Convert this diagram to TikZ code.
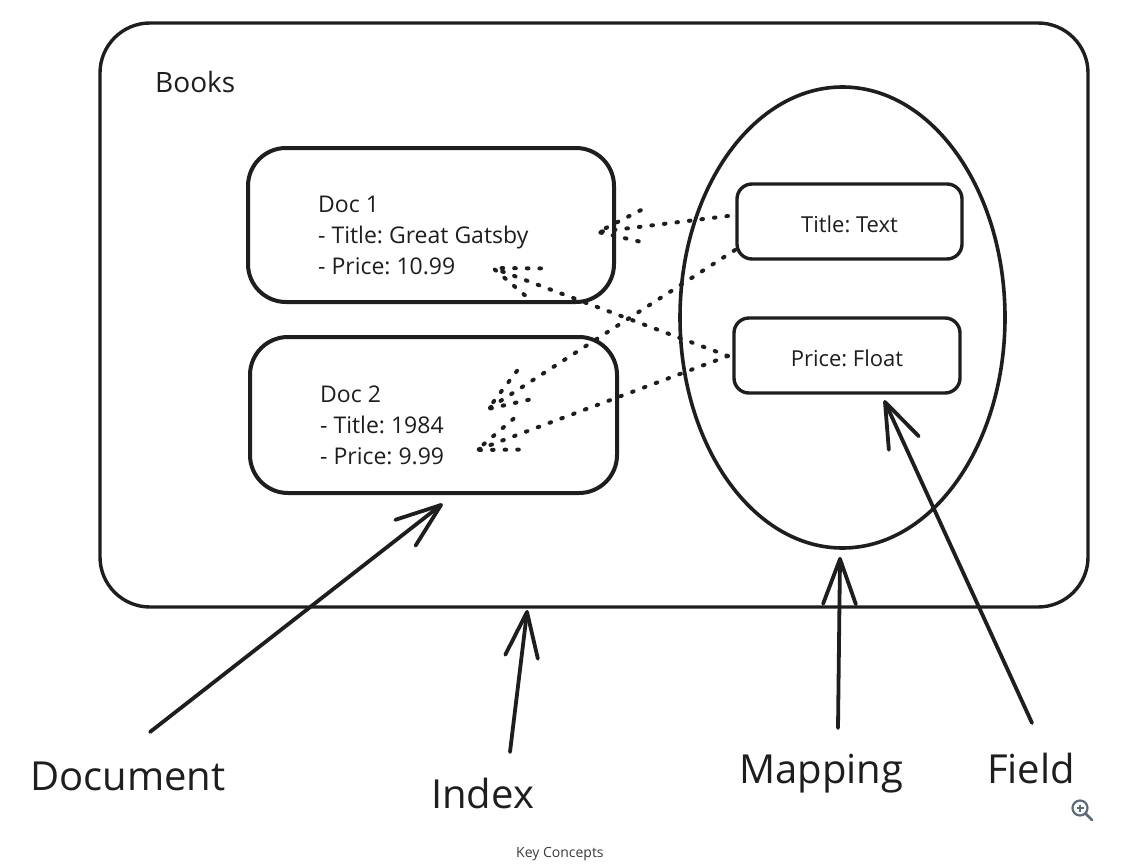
\documentclass[tikz,border=0pt]{standalone}
\usepackage{fontspec}
\setmainfont{Open Sans}
\frenchspacing
\usetikzlibrary{calc,shapes.geometric}
\definecolor{ink}{HTML}{1E1E1E}
\definecolor{icongray}{HTML}{5F6B78}
\definecolor{captiongray}{HTML}{3A3A3A}
\newcommand\headlen{48pt}
\newcommand\sketchto[3][]{%
  \draw[#1] (#2) -- (#3);
  \draw[#1] ($(#3)!\headlen!20:(#2)$) -- (#3) -- ($(#3)!\headlen!-20:(#2)$);}
\tikzset{
  box/.style={draw=ink, line width=3.6pt, inner sep=0pt},
  dotline/.style={draw=ink, line width=4pt, line cap=round, dash pattern=on 1.6pt off 11pt},
  bigarrow/.style={draw=ink, line width=3.8pt, line cap=round, line join=round},
  doctext/.style={text=ink, inner sep=0pt, align=left, anchor=north west, font=\fontsize{23}{31}\selectfont\frenchspacing},
  fieldtext/.style={text=ink, text height=21pt, text depth=0pt, font=\fontsize{22}{26}\selectfont\frenchspacing},
  biglabel/.style={text=ink, inner sep=0pt, anchor=base west, font=\fontsize{40}{48}\selectfont},
}
\begin{document}
\begin{tikzpicture}[x=1pt,y=-1pt]
\useasboundingbox[fill=white] (0,0) rectangle (1129,864);

% index container
\node[box, line width=3.4pt, rounded corners=50pt, minimum width=988pt, minimum height=584pt] (index) at (594,315) {};
\node[text=ink, inner sep=0pt, anchor=base west, font=\fontsize{28}{34}\selectfont] (books) at (155,93) {Books};

% documents
\node[box, line width=4pt, rounded corners=38pt, minimum width=366pt, minimum height=154pt] (doc1) at (431,225) {};
\node[doctext] (doc1txt) at (318,196) {Doc 1\\- Title: Great Gatsby\\- Price: 10.99};
\node[box, line width=4pt, rounded corners=38pt, minimum width=367pt, minimum height=156pt] (doc2) at (433.5,415) {};
\node[doctext] (doc2txt) at (320,386) {Doc 2\\- Title: 1984\\- Price: 9.99};

% mapping
\node[box, ellipse, line width=3.6pt, minimum width=325pt, minimum height=461pt] (mapping) at (842.5,317.5) {};
\node[box, line width=3.4pt, rounded corners=15pt, minimum width=225pt, minimum height=75pt, fieldtext] (title) at (849.5,221.5) {Title: Text};
\node[box, line width=3.4pt, rounded corners=15pt, minimum width=226pt, minimum height=75pt, fieldtext] (price) at (847,355.5) {Price: Float};

% dotted connector end points
\coordinate (t1s) at (728,216);
\coordinate (t1e) at (598,232);
\coordinate (t2s) at (735,250);
\coordinate (t2e) at (488,409);
\coordinate (p1s) at (728,356);
\coordinate (p1e) at (493,268);
\coordinate (p2s) at (728,356);
\coordinate (p2e) at (477,450);

\sketchto[dotline]{t1s}{t1e}
\sketchto[dotline]{t2s}{t2e}
\sketchto[dotline]{p1s}{p1e}
\sketchto[dotline]{p2s}{p2e}

% labels
\node[biglabel] (doclabel) at (30,790) {Document};
\node[biglabel] (indexlabel) at (431,808) {Index};
\node[biglabel] (mappinglabel) at (739,783) {Mapping};
\node[biglabel] (fieldlabel) at (987,783) {Field};

\coordinate (da) at (150,732);
\coordinate (dt) at (441,505);
\coordinate (ia) at (510,752);
\coordinate (it) at (527,612);
\coordinate (ma) at (838,728);
\coordinate (mt) at (840,559);
\coordinate (fa) at (1032,723);
\coordinate (ft) at (885,402);

\sketchto[bigarrow]{da}{dt}
\sketchto[bigarrow]{ia}{it}
\sketchto[bigarrow]{ma}{mt}
\sketchto[bigarrow]{fa}{ft}

% caption
\node[text=captiongray, inner sep=0pt, anchor=base west, font=\fontsize{14}{16}\selectfont] (caption) at (516,857) {Key Concepts};

% zoom icon
\coordinate (zc) at (1080,808);
\draw[icongray, line width=2.2pt] (zc) circle (7.5);
\draw[icongray, line width=2.6pt, line cap=round] (1086,814) -- (1092,820);
\draw[icongray, line width=1.4pt] (1076.5,808) -- (1083.5,808) (1080,804.5) -- (1080,811.5);
\end{tikzpicture}
\end{document}
